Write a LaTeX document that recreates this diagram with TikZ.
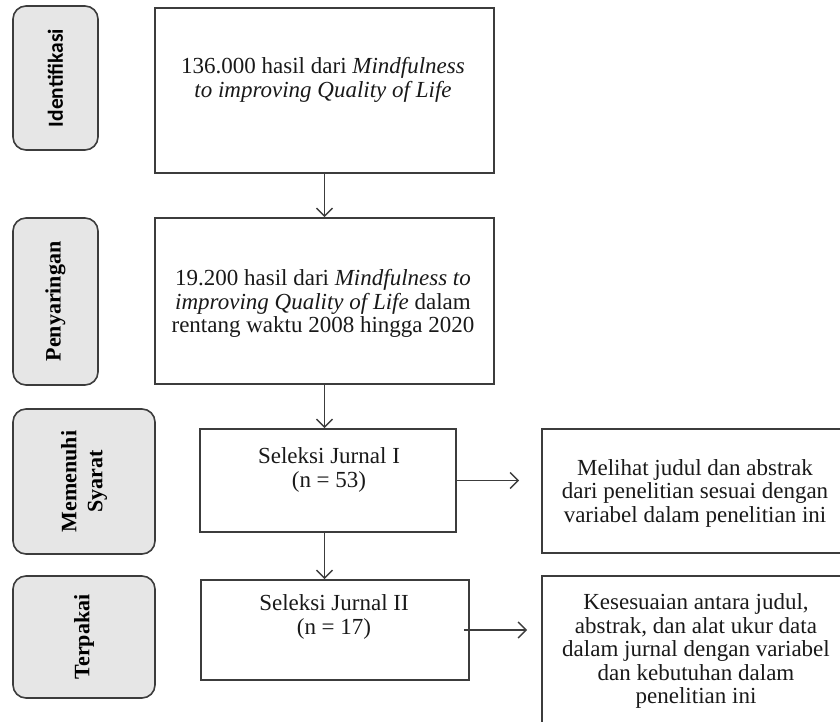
\documentclass[tikz,border=0pt]{standalone}
\usepackage{fontspec}
\setmainfont{Liberation Serif}
\newfontfamily\tabsans{Carlito}
\usetikzlibrary{arrows.meta}
\definecolor{edge}{HTML}{3C3C3C}
\definecolor{tabfill}{HTML}{E6E6E6}
\tikzset{
  tab/.style={draw=edge, line width=1.6pt, fill=tabfill, rounded corners=13pt, rotate=90, align=center, inner sep=0pt, font=\fontsize{22}{26}\selectfont\bfseries},
  box/.style={draw=edge, line width=1.6pt, inner sep=0pt},
  txt/.style={align=center, inner sep=0pt, font=\fontsize{23}{23.5}\selectfont, text=black!90},
  link/.style={draw=edge, line width=1.5pt, -{Straight Barb[length=8pt,width=16pt,line width=1.5pt]}}
}
\begin{document}
\begin{tikzpicture}[x=1pt, y=-1pt]
    \useasboundingbox (0,0) rectangle (840,722);

    % tahap (kiri)
    \node[tab, minimum width=144pt, minimum height=85pt, font=\fontsize{21.5}{26}\tabsans\bfseries] (idf) at (55.5,78) {Identifikasi};
    \node[tab, minimum width=167pt, minimum height=85pt] (pny) at (55.5,301.5) {Penyaringan};
    \node[tab, minimum width=145pt, minimum height=142pt] (mms) at (84,481.5) {Memenuhi\\Syarat};
    \node[tab, minimum width=122pt, minimum height=142pt] (tpk) at (84,637) {Terpakai};

    % kotak alur
    \node[box, minimum width=339pt, minimum height=165pt] (b1) at (324.5,90.5) {};
    \node[box, minimum width=339pt, minimum height=166pt] (b2) at (324.5,301) {};
    \node[box, minimum width=256pt, minimum height=103pt] (b3) at (328,480.5) {};
    \node[box, minimum width=268pt, minimum height=100pt] (b4) at (335,630) {};
    \node[box, minimum width=306pt, minimum height=124pt] (r1) at (695,491) {};
    \node[box, minimum width=306pt, minimum height=152pt] (r2) at (695,652) {};

    \node[txt] (t1) at (323,80) {136.000 hasil dari \textit{Mindfulness}\\\textit{to improving Quality of Life}};
    \node[txt] (t2) at (323,303.5) {19.200 hasil dari \textit{Mindfulness to}\\\textit{improving Quality of Life} dalam\\rentang waktu 2008 hingga 2020};
    \node[txt] (t3) at (329,470) {Seleksi Jurnal I\\(n = 53)};
    \node[txt] (t4) at (334,617) {Seleksi Jurnal II\\(n = 17)};
    \node[txt] (t5) at (695,493) {Melihat judul dan abstrak\\dari penelitian sesuai dengan\\variabel dalam penelitian ini};
    \node[txt] (t6) at (696,651) {Kesesuaian antara judul,\\abstrak, dan alat ukur data\\dalam jurnal dengan variabel\\dan kebutuhan dalam\\penelitian ini};

    % panah
    \draw[link] (b1.south -| b2.south) -- (b2.north);
    \draw[link] (b2.south) -- (b2.south |- b3.north);
    \draw[link] (b3.south -| b2.south) -- (b2.south |- b4.north);
    \draw[link, shorten >=22pt] (b3.east) -- (b3.east -| r1.west);
    \draw[link, shorten <=-6pt, shorten >=14pt] (b4.east) -- (b4.east -| r2.west);
\end{tikzpicture}
\end{document}
